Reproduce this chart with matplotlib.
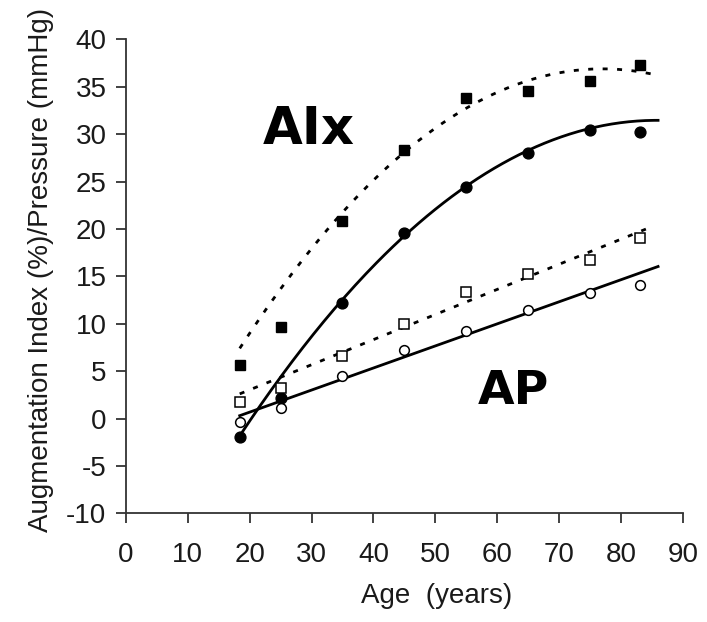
import numpy as np
import matplotlib
matplotlib.use("Agg")
import matplotlib.pyplot as plt

# ---- data ----
ages = [18.5, 25, 35, 45, 55, 65, 75, 83]
aix_squares = [5.6, 9.7, 20.8, 28.3, 33.8, 34.6, 35.6, 37.3]
aix_circles = [-2.0, 2.2, 12.2, 19.6, 24.4, 28.0, 30.5, 30.2]
ap_squares = [1.7, 3.2, 6.6, 10.0, 13.4, 15.3, 16.7, 19.1]
ap_circles = [-0.4, 1.1, 4.5, 7.2, 9.2, 11.5, 13.2, 14.1]

# regression curves drawn in the reference (polynomial coefficients, highest power first)
fit_aix_squares = [-0.00859, 1.3229, -14.03]
fit_aix_circles = [-0.007332, 1.2581, -22.5]
fit_ap_squares = [0.265, -2.276]
fit_ap_circles = [0.2329, -3.986]
fit_start = 18.4
fit_end_solid = 86
fit_end_dashed = 85

xticks = [0, 10, 20, 30, 40, 50, 60, 70, 80, 90]
yticks = [-10, -5, 0, 5, 10, 15, 20, 25, 30, 35, 40]

plt.rcParams['font.family'] = ['Liberation Sans', 'DejaVu Sans']
plt.rcParams['axes.unicode_minus'] = False

fig = plt.figure(figsize=(7.07, 6.22), dpi=100)
ax = fig.add_axes([0.178, 0.1748, 0.7878, 0.7617])

xs = np.linspace(fit_start, fit_end_solid, 200)
xd = np.linspace(fit_start, fit_end_dashed, 200)

lw = 2.0
dash = (1.8, 3.4)
ax.plot(xd, np.polyval(fit_aix_squares, xd), color='black', lw=lw, dashes=dash)
ax.plot(xs, np.polyval(fit_aix_circles, xs), color='black', lw=lw)
ax.plot(xd, np.polyval(fit_ap_squares, xd), color='black', lw=lw, dashes=dash)
ax.plot(xs, np.polyval(fit_ap_circles, xs), color='black', lw=lw)

ax.plot(ages, aix_squares, 's', color='black', ms=7.8, zorder=3)
ax.plot(ages, aix_circles, 'o', color='black', ms=7.8, zorder=3)
ax.plot(ages, ap_squares, 's', mfc='white', mec='black', mew=1.1, ms=7, zorder=3)
ax.plot(ages, ap_circles, 'o', mfc='white', mec='black', mew=1.1, ms=7, zorder=3)

ax.text(29.6, 30.4, 'AIx', fontsize=37, fontweight='bold', family='DejaVu Sans',
        ha='center', va='center')
ax.text(62.7, 2.9, 'AP', fontsize=34, fontweight='bold', family='DejaVu Sans',
        ha='center', va='center')

ax.set_xlim(0, 90)
ax.set_ylim(-10, 40)
ax.set_xticks(xticks)
ax.set_yticks(yticks)
for s in ['top', 'right']:
    ax.spines[s].set_visible(False)
for s in ['left', 'bottom']:
    ax.spines[s].set_color('#333333')
    ax.spines[s].set_linewidth(1.3)
ax.tick_params(axis='both', direction='out', length=7, width=1.3, color='#333333',
               labelsize=20, labelcolor='#1a1a1a')
ax.tick_params(axis='x', pad=14)
ax.tick_params(axis='y', pad=7)

ax.set_xlabel('Age  (years)', fontsize=20, color='#1a1a1a')
ax.xaxis.set_label_coords(0.558, -0.147)
ax.set_ylabel('Augmentation Index (%)/Pressure (mmHg)', fontsize=20, color='#1a1a1a')
ax.yaxis.set_label_coords(-0.129, 0.513)

fig.savefig('out.png', dpi=100)
